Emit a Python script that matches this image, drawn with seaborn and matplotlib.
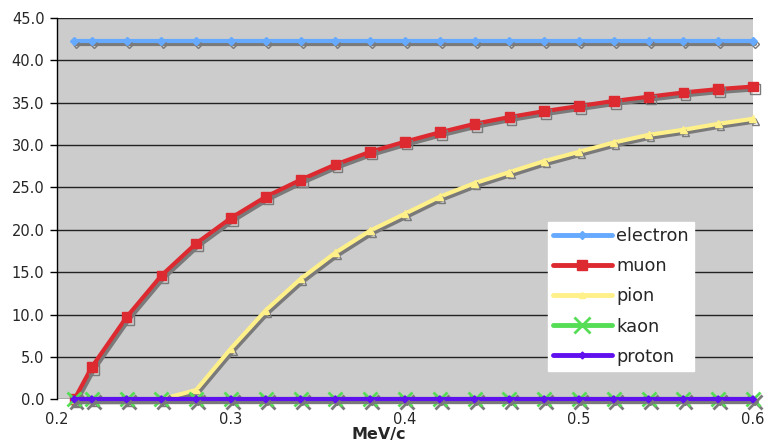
import numpy as np
import pandas as pd
import seaborn as sns
import matplotlib.pyplot as plt
import matplotlib.patheffects as pe
from matplotlib.lines import Line2D
from matplotlib.ticker import FormatStrFormatter, MultipleLocator

# momentum points (x axis)
momentum = [0.21, 0.22, 0.24, 0.26, 0.28, 0.30, 0.32, 0.34, 0.36, 0.38, 0.40,
            0.42, 0.44, 0.46, 0.48, 0.50, 0.52, 0.54, 0.56, 0.58, 0.60]

# values
electron = [42.3] * 21
muon = [0.0, 3.8, 9.7, 14.6, 18.4, 21.4, 23.9, 25.9, 27.7, 29.2, 30.4,
        31.5, 32.5, 33.3, 34.0, 34.6, 35.2, 35.7, 36.2, 36.6, 36.9]
pion = [0.0, 0.0, 0.0, 0.0, 1.1, 6.0, 10.5, 14.2, 17.3, 19.9, 21.9,
        23.9, 25.5, 26.8, 28.1, 29.2, 30.3, 31.2, 31.8, 32.5, 33.1]
kaon = [0.0] * 21
proton = [0.0] * 21

# name: values, colour, marker, marker size, line width
series = {
    'electron': (electron, '#66aaff', 'D', 4, 3),
    'muon': (muon, '#dd2a30', 's', 7, 3),
    'pion': (pion, '#fff08a', '^', 5, 3),
    'kaon': (kaon, '#55dd55', 'x', 10, 3),
    'proton': (proton, '#6010ee', 'D', 3.5, 3),
}

sns.set_style('white')
plt.rcParams['font.family'] = ['DejaVu Sans']

fig = plt.figure(figsize=(7.67, 4.45), dpi=100)
ax = fig.add_axes([0.0743, 0.1027, 0.9074, 0.857])
ax.set_facecolor('#cccccc')

shadow = [pe.SimpleLineShadow(offset=(1.5, -2.0), shadow_color='#7a7a7a', alpha=1.0), pe.Normal()]

handles = []
for name, (vals, color, mk, ms, lw) in series.items():
    df = pd.DataFrame({'p': momentum, 'angle': vals})
    mew = 2.0 if mk == 'x' else 1
    sns.lineplot(data=df, x='p', y='angle', ax=ax, color=color, linewidth=lw,
                 marker=mk, markersize=ms, markeredgecolor=color,
                 markeredgewidth=mew, path_effects=shadow,
                 clip_on=False, zorder=3)
    handles.append(Line2D([], [], color=color, linewidth=lw + 0.5, marker=mk,
                          markersize=ms + (1 if mk == 'x' else 0), markeredgecolor=color,
                          markeredgewidth=mew, label=name))

ax.set_xlim(0.2, 0.6)
ax.set_ylim(0, 45)
ax.xaxis.set_major_locator(MultipleLocator(0.1))
ax.yaxis.set_major_locator(MultipleLocator(5))
ax.yaxis.set_major_formatter(FormatStrFormatter('%.1f'))
ax.xaxis.set_major_formatter(FormatStrFormatter('%g'))
ax.grid(axis='y', color='#222222', linewidth=1.0, zorder=0)
ax.set_axisbelow(True)

for s in ['top', 'right', 'bottom']:
    ax.spines[s].set_visible(False)
ax.spines['left'].set_color('black')
ax.spines['left'].set_linewidth(1.0)

ax.tick_params(axis='y', direction='out', length=5, width=1, color='black',
               labelsize=10.5, pad=4, left=True)
ax.tick_params(axis='x', length=0, labelsize=10.5, pad=9)

ax.set_xlabel('MeV/c', fontsize=11.5, fontweight='bold', va='bottom')
ax.xaxis.set_label_coords(0.462, -0.112)
ax.set_ylabel('')

leg = ax.legend(handles=handles, loc='upper left', bbox_to_anchor=(0.705, 0.465),
                borderaxespad=0, frameon=True, fancybox=False, framealpha=1,
                edgecolor='white', facecolor='white', fontsize=12.8,
                handlelength=3.3, labelspacing=0.68, handletextpad=0.25,
                borderpad=0.3)
leg.set_zorder(5)

fig.savefig('out.png', dpi=100)
